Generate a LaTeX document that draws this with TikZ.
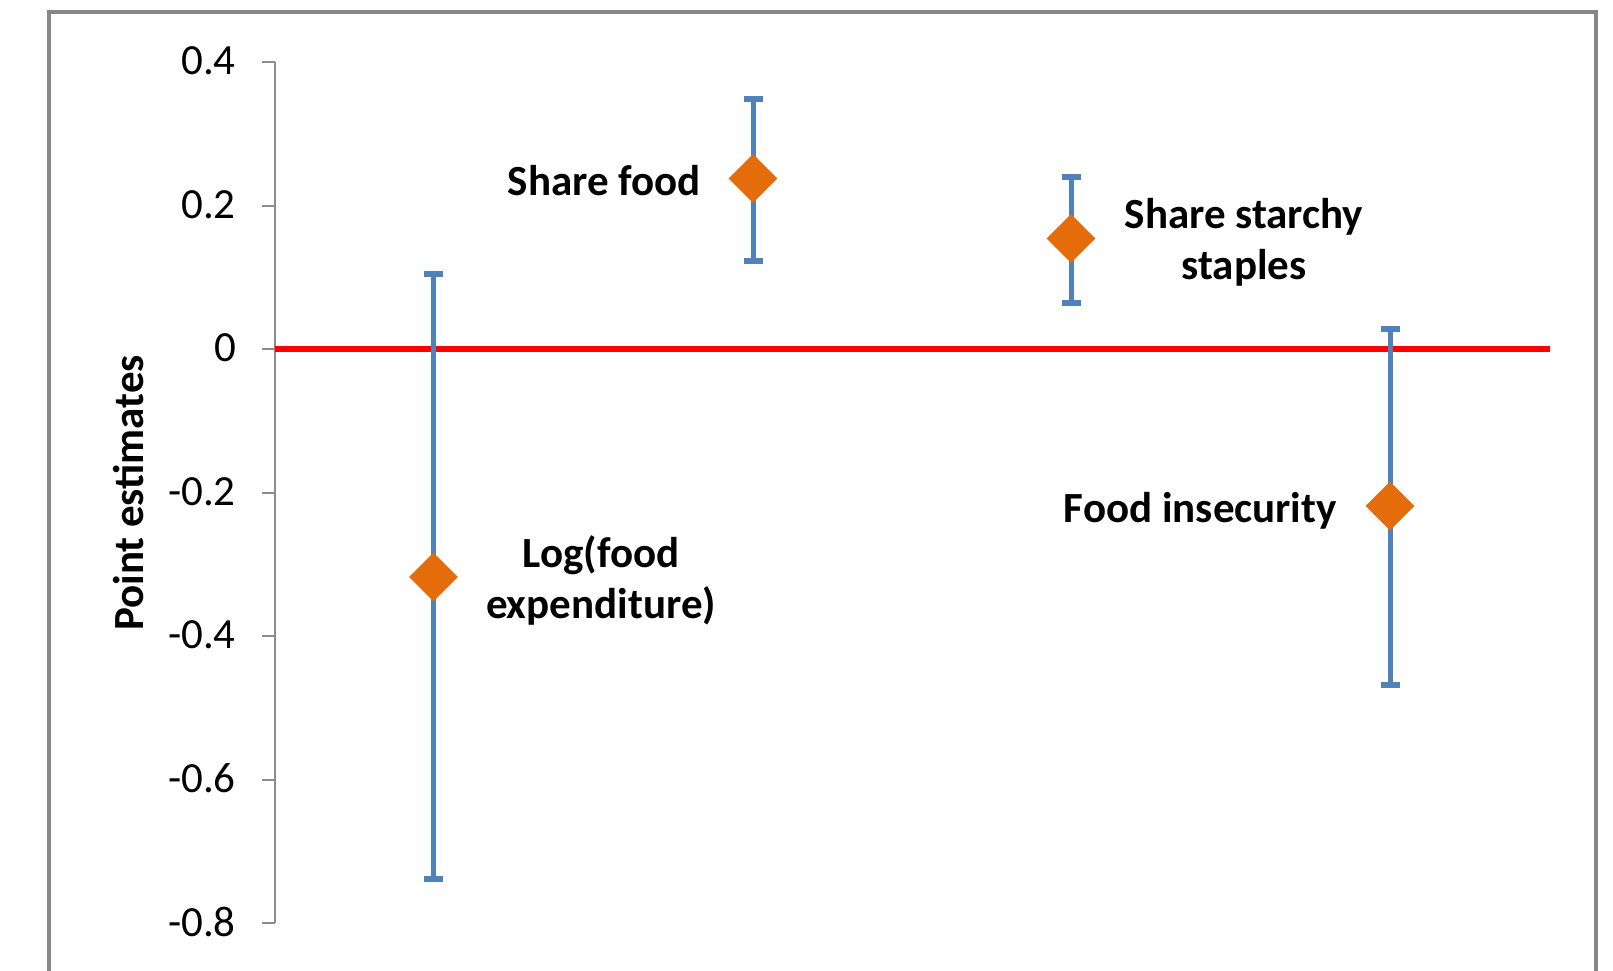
\documentclass[tikz,border=0pt]{standalone}
\usepackage{fontspec}
\setmainfont{Carlito}
\usetikzlibrary{shapes.geometric}
\definecolor{framegray}{HTML}{878787}
\definecolor{axisgray}{HTML}{8C8C8C}
\definecolor{barblue}{HTML}{4F81BD}
\definecolor{markorange}{HTML}{E46C0A}
\begin{document}
\begin{tikzpicture}[x=1pt,y=-1pt,
  lbl/.style={font=\fontsize{43}{51}\selectfont\bfseries, inner sep=0pt},
  ticklbl/.style={font=\fontsize{43}{51}\selectfont, inner sep=0pt, anchor=east},
  ebar/.style={barblue, line width=5pt},
  ecap/.style={barblue, line width=6pt},
  ptmark/.style={diamond, fill=markorange, inner sep=0pt, minimum width=49pt, minimum height=49pt},
  zeroline/.style={red, line width=6pt},
  axisline/.style={axisgray, line width=2pt}]
\useasboundingbox (0,0) rectangle (1613,970);
\fill[white] (0,0) rectangle (1613,970);
% frame
\draw[framegray, line width=4pt] (48.5,975) -- (48.5,11.5) -- (1596,11.5) -- (1596,975);
% axis
\coordinate (axtop) at (275,62);
\coordinate (axbot) at (275,923);
\draw[axisline] (axtop) -- (axbot);
\foreach \v/\t in {0.4/0.4,0.2/0.2,0/0,-0.2/-0.2,-0.4/-0.4,-0.6/-0.6,-0.8/-0.8}{
  \draw[axisline] (262,{349-\v*717.5}) -- (275,{349-\v*717.5});
  \node[ticklbl] at (236,{348-\v*717.5}) {\t};
}
% zero line
\coordinate (z0) at (275,349);
\coordinate (z1) at (1550,349);
\draw[zeroline] (z0) -- (z1);
% error bars
\foreach \i/\x/\hi/\lo in {1/433.5/274/879, 2/753/98.5/260.5, 3/1071/177/303, 4/1390/329/685}{
  \coordinate (e\i t) at (\x,\hi);
  \coordinate (e\i b) at (\x,\lo);
  \draw[ebar] (e\i t) -- (e\i b);
  \draw[ecap] ([xshift=-9.5pt]e\i t) -- ([xshift=9.5pt]e\i t);
  \draw[ecap] ([xshift=-9.5pt]e\i b) -- ([xshift=9.5pt]e\i b);
}
% point markers
\node[ptmark] (p1) at (433.5,577) {};
\node[ptmark] (p2) at (753,178.5) {};
\node[ptmark] (p3) at (1071,238.5) {};
\node[ptmark] (p4) at (1390,506) {};
% labels
\node[lbl, anchor=base east] (l2) at (701,195) {Share food};
\node[lbl, anchor=base, align=center] (l3) at (1244,279) {Share starchy\\staples};
\node[lbl, anchor=base east] (l4) at (1337,522) {Food insecurity};
\node[lbl, anchor=base, align=center] (l1) at (601,618) {Log(food\\expenditure)};
\node[lbl, rotate=90, anchor=base] (yt) at (143,493) {Point estimates};
\end{tikzpicture}
\end{document}
